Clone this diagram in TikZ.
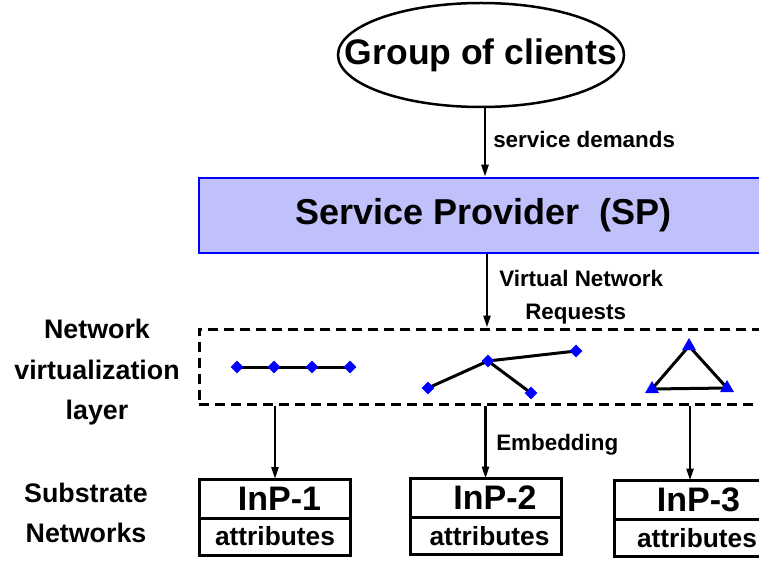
\documentclass[tikz,border=0pt]{standalone}
\usepackage{fontspec}
\setmainfont{Liberation Sans}
\usetikzlibrary{positioning,shapes,backgrounds,arrows.meta}
\definecolor{spfill}{RGB}{192,192,250}

\begin{document}
\begin{tikzpicture}[x=1pt, y=-1pt, line width=2.5pt, >={Triangle[length=12pt,width=7pt]}]
\tikzstyle{vtx}=[diamond, fill=blue, inner sep=0pt, minimum width=14pt, minimum height=14pt]
\tikzstyle{tri}=[regular polygon, regular polygon sides=3, fill=blue, inner sep=0pt, minimum size=16pt]
\tikzstyle{lbl}=[inner sep=0pt, font=\fontsize{22.4}{27}\selectfont\bfseries]
\tikzstyle{side}=[inner sep=0pt, align=center, font=\fontsize{26.8}{40.5}\selectfont\bfseries]
\tikzstyle{inp}=[draw, line width=3pt, outer sep=0pt, inner sep=0pt, minimum width=151pt,
                 minimum height=39pt, font=\fontsize{34}{40}\selectfont\bfseries]
\tikzstyle{attr}=[inp, minimum height=37pt, font=\fontsize{26.3}{30}\selectfont\bfseries]
\useasboundingbox (0,0) rectangle (759,561);
\node[ellipse, draw, fill=white, inner sep=0pt, minimum width=286pt, minimum height=104pt,
      font=\fontsize{35.5}{40}\selectfont\bfseries] (clients) at (481,55) {\makebox[0pt]{Group of clients}};
\node[draw=blue, fill=spfill, minimum width=569pt, minimum height=75pt,
      font=\fontsize{36}{40}\selectfont\bfseries] (sp) at (483.5,215.5) {Service Provider\ \ (SP)};
\node[draw, line width=3pt, dash pattern=on 10pt off 6pt, minimum width=580pt, minimum height=75pt] (vnl) at (489,366.5) {};
% virtual network requests
\foreach \n/\x/\y in {c1/237/367, c2/274/367, c3/312/367, c4/350/367,
                      t0/488/361, t1/576/351, t2/428/388, t3/531/393}{\node[vtx] (\n) at (\x,\y) {};}
\foreach \n/\x/\y in {r1/689/346, r2/652/389, r3/727/388}{\node[tri] (\n) at (\x,\y) {};}
\begin{scope}[on background layer]
\foreach \i/\j in {c1/c2,c2/c3,c3/c4,t2/t0,t0/t1,t0/t3,r1/r2,r2/r3,r3/r1}{\draw[line width=3pt] (\i.center) -- (\j.center);}
\end{scope}
% substrate networks
\foreach \n/\x/\y/\s/\t in {1/275/498.5/9pt/0pt, 2/485.5/498/19pt/8pt, 3/690/500/17pt/14pt}{
  \node[inp] (inp\n) at (\x,\y) {\hspace*{\s}InP-\n};
  \node[attr, below=0pt of inp\n] (attr\n) {\hspace*{\t}attributes};
  \draw[->] (inp\n |- vnl.south) -- (inp\n.north);
}
\draw[->] ([xshift=4pt]clients.south) -- ([xshift=1.5pt]sp.north);
\draw[->] ([xshift=3.5pt]sp.south) -- ([xshift=-2pt]vnl.north);
\node[lbl, anchor=base west] (sd) at (492,148) {service demands};
\node[lbl, anchor=base west] (vnr1) at (498,286) {Virtual Network};
\node[lbl, anchor=base west] (vnr2) at (524,319) {Requests};
\node[lbl, anchor=base west] (emb) at (495,450) {Embedding};
\node[side] (nvl) at (97,372.5) {Network\\virtualization\\layer};
\node[side] (sub) at (86,513) {Substrate\\Networks};
\end{tikzpicture}
\end{document}
